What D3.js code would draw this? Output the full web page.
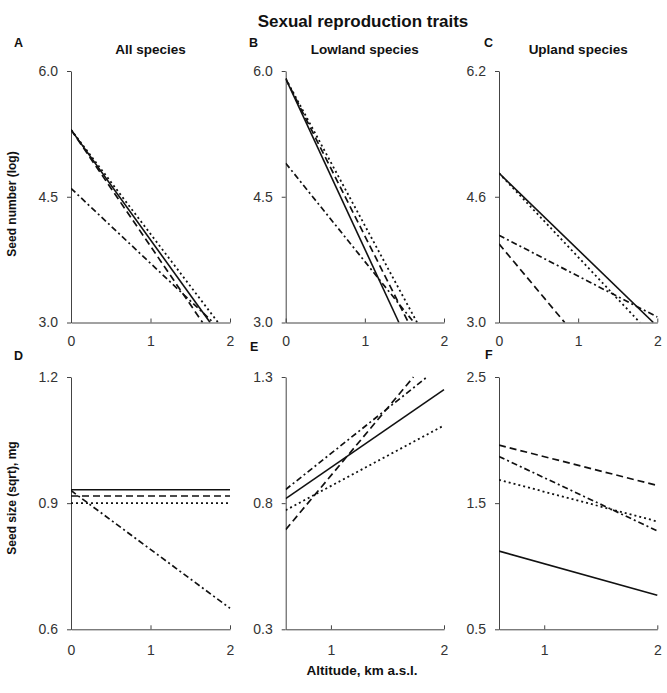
<!DOCTYPE html>
<html>
<head>
<meta charset="utf-8">
<script src="https://cdn.jsdelivr.net/npm/d3@7"></script>
<style>
  html, body { margin: 0; padding: 0; background: #fff; }
  svg { display: block; font-family: "Liberation Sans", Arial, sans-serif; }
</style>
</head>
<body>
<svg id="chart" width="667" height="693"></svg>
<script>
// ---------------- DATA ----------------
const mainTitle = "Sexual reproduction traits";
const panelLetters = ["A", "B", "C", "D", "E", "F"];
const panelTitles = ["All species", "Lowland species", "Upland species"];
const yAxisTitles = ["Seed number (log)", "Seed size (sqrt), mg"];
const xAxisTitle = "Altitude, km a.s.l.";

const xDomains = [[0, 2], [0, 2], [0, 2], [0, 2], [0.6, 2], [0.6, 2]];
const xTickValues = [[0, 1, 2], [0, 1, 2], [0, 1, 2], [0, 1, 2], [1, 2], [1, 2]];
const yDomains = [[3.0, 6.0], [3.0, 6.0], [3.0, 6.2], [0.6, 1.2], [0.3, 1.3], [0.5, 2.5]];
const yTickValues = [
  [3.0, 4.5, 6.0], [3.0, 4.5, 6.0], [3.0, 4.6, 6.2],
  [0.6, 0.9, 1.2], [0.3, 0.8, 1.3], [0.5, 1.5, 2.5]
];

// fitted lines per panel (A..F): [[x start, y start], [x end, y end]]
const solidLines = [
  [[0, 5.30], [1.75, 3.0]],
  [[0, 5.91], [1.43, 3.0]],
  [[0, 4.90], [1.95, 3.0]],
  [[0, 0.932], [2, 0.932]],
  [[0.6, 0.818], [2, 1.25]],
  [[0.6, 1.12], [2, 0.77]]
];
const dashedLines = [
  [[0, 5.30], [1.655, 3.0]],
  [[0, 5.91], [1.55, 3.0]],
  [[0, 4.00], [0.83, 3.0]],
  [[0, 0.917], [2, 0.917]],
  [[0.6, 0.695], [1.73, 1.3]],
  [[0.6, 1.96], [2, 1.64]]
];
const dottedLines = [
  [[0, 5.30], [1.85, 3.0]],
  [[0, 5.91], [1.66, 3.0]],
  [[0, 4.90], [1.78, 3.0]],
  [[0, 0.90], [2, 0.90]],
  [[0.6, 0.772], [2, 1.108]],
  [[0.6, 1.685], [2, 1.355]]
];
const dashDotLines = [
  [[0, 4.60], [1.79, 3.0]],
  [[0, 4.90], [1.62, 3.0]],
  [[0, 4.11], [2, 3.07]],
  [[0, 0.93], [2, 0.65]],
  [[0.6, 0.854], [1.85, 1.3]],
  [[0.6, 1.87], [2, 1.28]]
];

// ---------------- LAYOUT ----------------
const colLeft = [71, 285.7, 499];
const colRight = [230, 444, 657.3];
const rowTop = [71, 377];
const rowBottom = [322.5, 629.3];
const xTickPad = [14, 15.5];
const letterPos = [[14, 46.7], [249, 46.5], [484, 46.7], [14, 359.5], [250, 351], [485, 358.5]];

const seriesDefs = [
  { lines: solidLines, dash: null, width: 1.6 },
  { lines: dashedLines, dash: "7,4", width: 1.7 },
  { lines: dottedLines, dash: "2,3", width: 1.8 },
  { lines: dashDotLines, dash: "6,3,2,3", width: 1.7 }
];

const svg = d3.select("#chart");
const ink = "#111";
const axisColor = "#444";

svg.append("text")
  .attr("x", 363).attr("y", 26.7)
  .attr("text-anchor", "middle")
  .attr("font-size", 17).attr("font-weight", "bold").attr("fill", ink)
  .text(mainTitle);

const lineGen = d3.line();

for (let p = 0; p < 6; p++) {
  const r = Math.floor(p / 3), c = p % 3;
  const x = d3.scaleLinear().domain(xDomains[p]).range([colLeft[c], colRight[c]]);
  const y = d3.scaleLinear().domain(yDomains[p]).range([rowBottom[r], rowTop[r]]);
  const g = svg.append("g");

  // clip
  const clipId = "clip" + p;
  svg.append("clipPath").attr("id", clipId).append("rect")
    .attr("x", colLeft[c]).attr("y", rowTop[r] - 2)
    .attr("width", colRight[c] - colLeft[c] + 2)
    .attr("height", rowBottom[r] - rowTop[r] + 2);

  // y axis
  const yAxis = g.append("g")
    .attr("transform", `translate(${colLeft[c]},0)`)
    .call(d3.axisLeft(y).tickValues(yTickValues[p]).tickSizeInner(4).tickSizeOuter(0)
      .tickPadding(9).tickFormat(d3.format(".1f")));
  // x axis
  const xAxis = g.append("g")
    .attr("transform", `translate(0,${rowBottom[r]})`)
    .call(d3.axisBottom(x).tickValues(xTickValues[p]).tickSizeInner(-4).tickSizeOuter(0)
      .tickPadding(xTickPad[r]).tickFormat(d3.format("d")));
  [yAxis, xAxis].forEach(a => {
    a.selectAll("path.domain").attr("stroke", axisColor).attr("stroke-width", 1);
    a.selectAll(".tick line").attr("stroke", axisColor).attr("stroke-width", 1);
    a.selectAll(".tick text").attr("font-size", 14).attr("fill", "#333")
      .attr("font-family", "'Liberation Sans', Arial, sans-serif");
  });

  // lines
  const lg = g.append("g").attr("clip-path", `url(#${clipId})`);
  seriesDefs.forEach(s => {
    const pts = s.lines[p].map(d => [x(d[0]), y(d[1])]);
    lg.append("path")
      .attr("d", lineGen(pts))
      .attr("fill", "none")
      .attr("stroke", ink)
      .attr("stroke-width", s.width)
      .attr("stroke-dasharray", s.dash);
  });

  // panel letter
  svg.append("text")
    .attr("x", letterPos[p][0]).attr("y", letterPos[p][1])
    .attr("font-size", 12.5).attr("font-weight", "bold").attr("fill", ink)
    .text(panelLetters[p]);

  // panel title (top row)
  if (r === 0) {
    svg.append("text")
      .attr("x", (colLeft[c] + colRight[c]) / 2).attr("y", 54)
      .attr("text-anchor", "middle")
      .attr("font-size", 13.5).attr("font-weight", "bold").attr("fill", ink)
      .text(panelTitles[c]);
  }
}

// y axis titles
[[16, 204], [16, 498]].forEach((pos, i) => {
  svg.append("text")
    .attr("transform", `translate(${pos[0]},${pos[1]}) rotate(-90)`)
    .attr("text-anchor", "middle")
    .attr("font-size", 12).attr("font-weight", "bold").attr("fill", ink)
    .text(yAxisTitles[i]);
});

// x axis title
svg.append("text")
  .attr("x", 362).attr("y", 675)
  .attr("text-anchor", "middle")
  .attr("font-size", 13.5).attr("font-weight", "bold").attr("fill", ink)
  .text(xAxisTitle);
</script>
</body>
</html>
